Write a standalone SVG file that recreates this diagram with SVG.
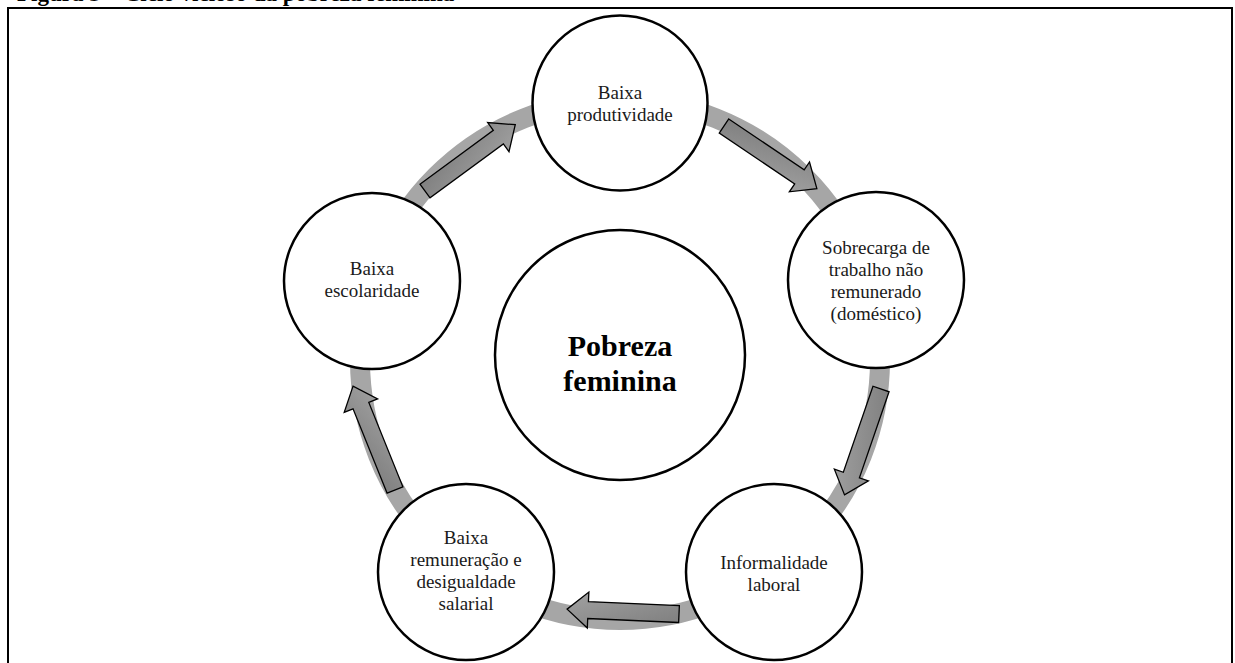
<svg xmlns="http://www.w3.org/2000/svg" width="1235" height="663" viewBox="0 0 1235 663">
  <style>
    .node { fill: #ffffff; stroke: #000000; stroke-width: 2.5; }
    .label { font-family: "Liberation Serif", "Times New Roman", serif; font-size: 19px; fill: #1a1a1a; text-anchor: middle; }
    .core { font-family: "Liberation Serif", "Times New Roman", serif; font-size: 30px; font-weight: bold; fill: #000000; text-anchor: middle; }
    .caption { font-family: "Liberation Serif", "Times New Roman", serif; font-size: 23px; font-weight: bold; fill: #000000; }
    .ring { fill: none; stroke: #a6a6a6; stroke-width: 20; }
    .arrow { fill: url(#arrowFill); stroke: #000000; stroke-width: 1.3; stroke-linejoin: miter; }
  </style>
  <defs>
    <linearGradient id="arrowFill" x1="0" y1="0" x2="1" y2="1">
      <stop offset="0" stop-color="#7b7b7b"/>
      <stop offset="1" stop-color="#a2a2a2"/>
    </linearGradient>
    <!-- block arrow pointing along +x, tail at origin -->
    <path id="blockArrow" d="M0,-8.5 H91 V-18 L112,0 L91,18 V8.5 H0 Z"/>
  </defs>

  <rect width="1235" height="663" fill="#ffffff"/>

  <!-- caption above the frame, running off the top edge -->
  <text class="caption" x="17" y="0.5">Figura 3 – Ciclo vicioso da pobreza feminina</text>

  <!-- frame -->
  <rect x="8" y="8" width="1224" height="720" fill="none" stroke="#000000" stroke-width="2"/>

  <!-- cycle ring and arrows -->
  <g id="connectors">
    <circle class="ring" cx="620" cy="360" r="260"/>
    <use href="#blockArrow" class="arrow" transform="translate(425,191) rotate(-36.3)"/>
    <use href="#blockArrow" class="arrow" transform="translate(724,126) rotate(34)"/>
    <use href="#blockArrow" class="arrow" transform="translate(881,389) rotate(109)"/>
    <use href="#blockArrow" class="arrow" transform="translate(679,614) rotate(182.5)"/>
    <use href="#blockArrow" class="arrow" transform="translate(395,490) rotate(-112)"/>
  </g>

  <g id="center">
    <circle class="node" cx="620" cy="355" r="125"/>
    <text class="core" x="620" y="356">Pobreza</text>
    <text class="core" x="620" y="391">feminina</text>
  </g>

  <g id="produtividade">
    <circle class="node" cx="620" cy="103" r="87.5"/>
    <text class="label" x="620" y="99">Baixa</text>
    <text class="label" x="620" y="121">produtividade</text>
  </g>

  <g id="sobrecarga">
    <circle class="node" cx="876" cy="280" r="88"/>
    <text class="label" x="876" y="254">Sobrecarga de</text>
    <text class="label" x="876" y="276">trabalho não</text>
    <text class="label" x="876" y="298">remunerado</text>
    <text class="label" x="876" y="320">(doméstico)</text>
  </g>

  <g id="informalidade">
    <circle class="node" cx="774" cy="572" r="88"/>
    <text class="label" x="774" y="569">Informalidade</text>
    <text class="label" x="774" y="591">laboral</text>
  </g>

  <g id="remuneracao">
    <circle class="node" cx="466" cy="572" r="88"/>
    <text class="label" x="466" y="544">Baixa</text>
    <text class="label" x="466" y="566">remuneração e</text>
    <text class="label" x="466" y="588">desigualdade</text>
    <text class="label" x="466" y="610">salarial</text>
  </g>

  <g id="escolaridade">
    <circle class="node" cx="372" cy="281" r="88"/>
    <text class="label" x="372" y="275">Baixa</text>
    <text class="label" x="372" y="297">escolaridade</text>
  </g>
</svg>
